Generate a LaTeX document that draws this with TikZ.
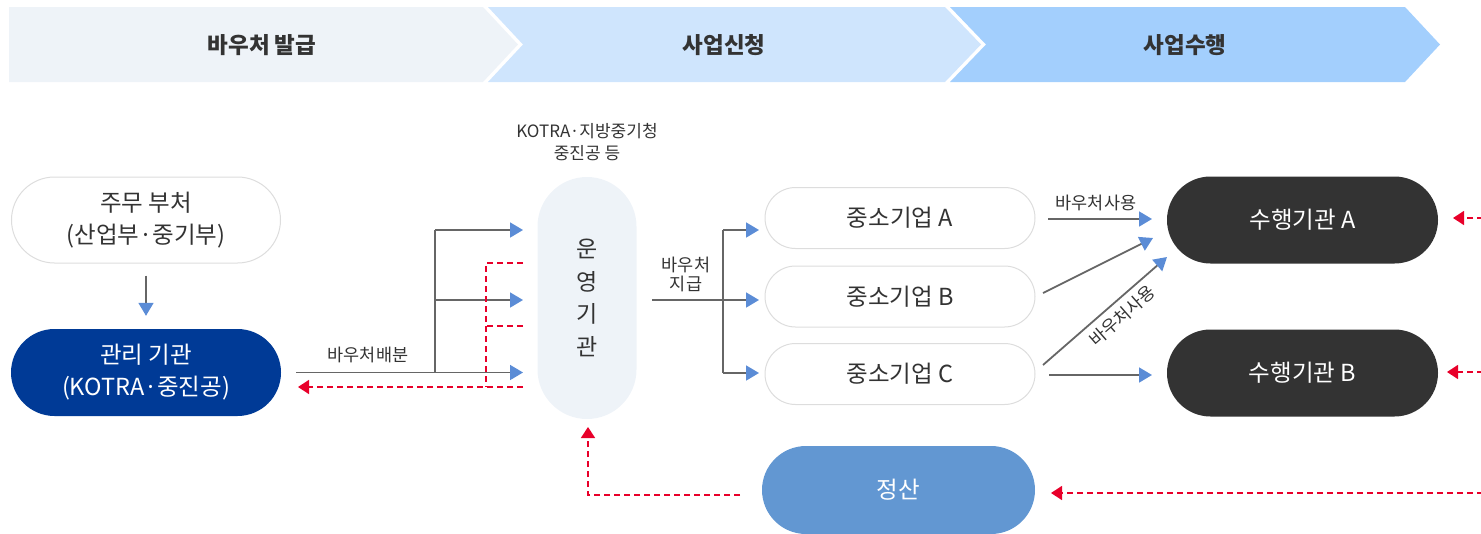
\documentclass[tikz,border=0pt]{standalone}
\usepackage{fontspec}
\setmainfont{Noto Sans CJK KR}
\usetikzlibrary{arrows.meta}
\definecolor{band1}{HTML}{EEF3F8}
\definecolor{band2}{HTML}{CFE5FD}
\definecolor{band3}{HTML}{A3CFFD}
\definecolor{txt}{HTML}{333333}
\definecolor{navy}{HTML}{003A96}
\definecolor{darkbox}{HTML}{333333}
\definecolor{settle}{HTML}{6297D2}
\definecolor{pillline}{HTML}{DDDDDD}
\definecolor{linegray}{HTML}{666666}
\definecolor{tipblue}{HTML}{5B8CD6}
\definecolor{redline}{HTML}{E8002A}
\begin{document}
\begin{tikzpicture}[x=1pt,y=-1pt,
  every node/.style={text=txt},
  bigtxt/.style={font=\fontsize{23.5}{32}\selectfont},
  smalltxt/.style={font=\fontsize{17.5}{21}\selectfont},
  bandtxt/.style={font=\fontsize{22.5}{26}\selectfont\bfseries},
  pill/.style={rectangle, rounded corners=#1, inner sep=0pt, align=center, bigtxt},
  whitepill/.style={pill=#1, fill=white, draw=pillline, line width=1pt},
  conn/.style={draw=linegray, line width=1.8pt, -{Triangle[length=13pt,width=15pt,color=tipblue]}},
  plain/.style={draw=linegray, line width=1.8pt},
  back/.style={draw=redline, line width=1.4pt, dash pattern=on 6pt off 4pt, -{Triangle[length=11pt,width=14pt,color=redline]}},
  backplain/.style={draw=redline, line width=1.4pt, dash pattern=on 6pt off 4pt},
]
\useasboundingbox (0,0) rectangle (1481,533);
% banner
\fill[band1] (9,7) -- (483,7) -- (518,44.5) -- (483,82) -- (9,82) -- cycle;
\fill[band2] (488,7) -- (945,7) -- (981,44.5) -- (945,82) -- (488,82) -- (523,44.5) -- cycle;
\fill[band3] (950,7) -- (1405,7) -- (1440,44.5) -- (1405,82) -- (950,82) -- (986,44.5) -- cycle;
\node[bandtxt] (b1) at (262,45) {바우처 발급};
\node[bandtxt] (b2) at (724,45) {사업신청};
\node[bandtxt] (b3) at (1185,45) {사업수행};
% nodes
\node[whitepill=43, minimum width=269pt, minimum height=86pt] (jumu) at (146,220) {주무 부처\\(산업부·중기부)};
\node[pill=43.5, fill=navy, text=white, minimum width=270pt, minimum height=87pt] (gwanri) at (146,372.5) {관리 기관\\(KOTRA·중진공)};
\node[pill=49.5, fill=band1, minimum width=99pt, minimum height=242pt, font=\fontsize{23}{32.5}\selectfont] (unyoung) at (587,298) {운\\영\\기\\관};
\node[align=center, font=\fontsize{17}{22}\selectfont] (unlabel) at (587,142) {KOTRA·지방중기청\\중진공 등};
\node[whitepill=30.5, minimum width=270pt, minimum height=61pt] (smA) at (900,218) {중소기업 A};
\node[whitepill=30.5, minimum width=270pt, minimum height=61pt] (smB) at (900,296.5) {중소기업 B};
\node[whitepill=30.5, minimum width=270pt, minimum height=61pt] (smC) at (900,374) {중소기업 C};
\node[pill=43.5, fill=darkbox, text=white, minimum width=271pt, minimum height=87pt] (suA) at (1302.5,220) {수행기관 A};
\node[pill=43.5, fill=darkbox, text=white, minimum width=271pt, minimum height=87pt] (suB) at (1302.5,373) {수행기관 B};
\node[pill=44, fill=settle, text=white, minimum width=273pt, minimum height=88pt, font=\fontsize{23.5}{26}\selectfont] (settle) at (898.5,490) {정산};
% left connectors
\draw[conn] ([yshift=-12pt]jumu.south) -- ([yshift=13pt]gwanri.north);
\coordinate (bA) at (435,372.5);
\coordinate (bTop) at (435,230);
\coordinate (bMid) at (435,300);
\coordinate (u1) at (523,230);
\coordinate (u2) at (523,300);
\coordinate (u3) at (523,372.5);
\draw[conn] ([xshift=15pt]gwanri.east) -- (u3);
\draw[plain] (bA) -- (bTop);
\draw[conn] (bTop) -- (u1);
\draw[conn] (bMid) -- (u2);
\node[smalltxt] (lbl1) at (368,355) {바우처배분};
% red returns left
\coordinate (r1) at (523,387);
\coordinate (r2) at (298,387);
\coordinate (rTop) at (486,263);
\coordinate (rTopE) at (523,263);
\coordinate (rMid) at (486,326);
\coordinate (rMidE) at (523,326);
\coordinate (rBot) at (486,387);
\draw[back] (r1) -- (r2);
\draw[backplain] (rTopE) -- (rTop) -- (rBot);
\draw[backplain] (rMidE) -- (rMid);
% from operating agency
\coordinate (s0) at (652,300);
\coordinate (sA) at (723,230);
\coordinate (sC) at (723,373);
\coordinate (tA) at (759,230);
\coordinate (tB) at (759,300);
\coordinate (tC) at (759,373);
\draw[conn] (s0) -- (tB);
\draw[plain] (sA) -- (sC);
\draw[conn] (sA) -- (tA);
\draw[conn] (sC) -- (tC);
\node[align=center, font=\fontsize{17.5}{19}\selectfont] (lbl2) at (686,274) {바우처\\지급};
% to execution agencies
\coordinate (aS) at (1048,219);
\coordinate (aE) at (1152,219);
\coordinate (bS) at (1043,293);
\coordinate (bE) at (1153,238);
\coordinate (cS) at (1043,365);
\coordinate (cE) at (1167,257);
\coordinate (dS) at (1049,375);
\coordinate (dE) at (1152,375);
\draw[conn] (aS) -- (aE);
\draw[conn] (bS) -- (bE);
\draw[conn] (cS) -- (cE);
\draw[conn] (dS) -- (dE);
\node[smalltxt] (lbl3) at (1096,203) {바우처사용};
\node[smalltxt, rotate=41.3, inner sep=1pt] (lbl4) at (1122,316) {바우처사용};
% red returns right
\coordinate (eA) at (1483,218);
\coordinate (eAt) at (1453,218);
\coordinate (eB) at (1483,372);
\coordinate (eBt) at (1447,372);
\coordinate (eS) at (1483,493);
\coordinate (eSt) at (1051,493);
\draw[back] (eA) -- (eAt);
\draw[back] (eB) -- (eBt);
\draw[back] (eS) -- (eSt);
\coordinate (sEnd) at (740,495);
\coordinate (sCorner) at (588,495);
\coordinate (uBot) at (588,427);
\draw[back] (sEnd) -- (sCorner) -- (uBot);
\end{tikzpicture}
\end{document}
